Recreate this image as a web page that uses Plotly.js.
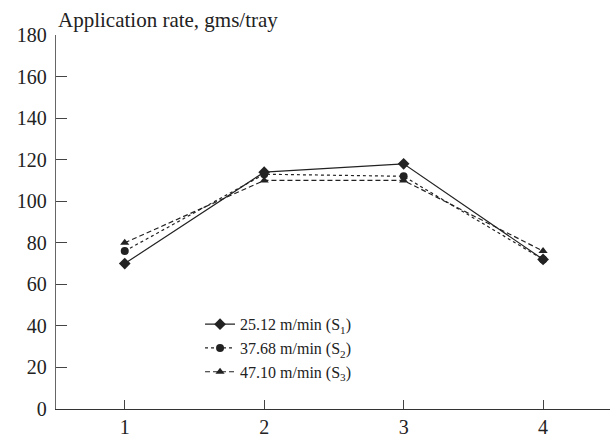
<!DOCTYPE html>
<html>
<head>
<meta charset="utf-8">
<script src="https://cdn.plot.ly/plotly-3.0.1.min.js"></script>
<style>html,body{margin:0;padding:0;background:#fff}#chart{width:611px;height:435px}</style>
</head>
<body>
<div id="chart"></div>
<script>
var positions = [1, 2, 3, 4];
var s1 = [70, 114, 118, 72];
var s2 = [76, 113, 112, 72];
var s3 = [80, 110, 110, 76];
var seriesNames = ['25.12 m/min (S<sub>1</sub>)', '37.68 m/min (S<sub>2</sub>)', '47.10 m/min (S<sub>3</sub>)'];
var yTicks = [0, 20, 40, 60, 80, 100, 120, 140, 160, 180];
var xTicks = [1, 2, 3, 4];

var ink = '#222222';
var traces = [
  {x: positions, y: s1, name: seriesNames[0], mode: 'lines+markers',
   line: {color: ink, width: 1.2, dash: 'solid'},
   marker: {symbol: 'diamond', size: 9, color: ink}},
  {x: positions, y: s2, name: seriesNames[1], mode: 'lines+markers',
   line: {color: ink, width: 1.2, dash: 'dot'},
   marker: {symbol: 'circle', size: 8, color: ink}},
  {x: positions, y: s3, name: seriesNames[2], mode: 'lines+markers',
   line: {color: ink, width: 1.2, dash: '5px,3px'},
   marker: {symbol: 'triangle-up', size: 8, color: ink}}
];

var layout = {
  width: 611, height: 435,
  margin: {l: 56, r: 1, t: 35, b: 26},
  paper_bgcolor: '#fff', plot_bgcolor: '#fff',
  font: {family: '"Liberation Serif", "Times New Roman", serif', size: 20, color: '#222'},
  showlegend: true,
  legend: {x: 0.26, y: 0.272, xanchor: 'left', yanchor: 'top',
           font: {size: 16, color: '#222'}, bgcolor: 'rgba(0,0,0,0)',
           tracegroupgap: 0, itemwidth: 30},
  xaxis: {range: [0.507, 4.48], tickmode: 'array', tickvals: xTicks, ticktext: xTicks.map(String),
          ticks: 'inside', ticklen: 9, tickcolor: '#444', tickwidth: 1,
          showline: true, linecolor: '#333', linewidth: 1.2,
          showgrid: false, zeroline: false, tickfont: {size: 20}},
  yaxis: {range: [0, 180], tickmode: 'array', tickvals: yTicks, ticktext: yTicks.map(String),
          ticks: 'inside', ticklen: 11, tickcolor: '#444', tickwidth: 1,
          showline: true, linecolor: '#666', linewidth: 1.2,
          showgrid: false, zeroline: false, tickfont: {size: 20}, ticklabelstandoff: 4},
  annotations: [{
    text: 'Application rate, gms/tray', xref: 'paper', yref: 'paper',
    x: 0, y: 1, xanchor: 'left', yanchor: 'bottom', yshift: 1, showarrow: false,
    font: {size: 21, color: '#222'}
  }]
};

Plotly.newPlot('chart', traces, layout, {staticPlot: true, displayModeBar: false});
</script>
</body>
</html>
